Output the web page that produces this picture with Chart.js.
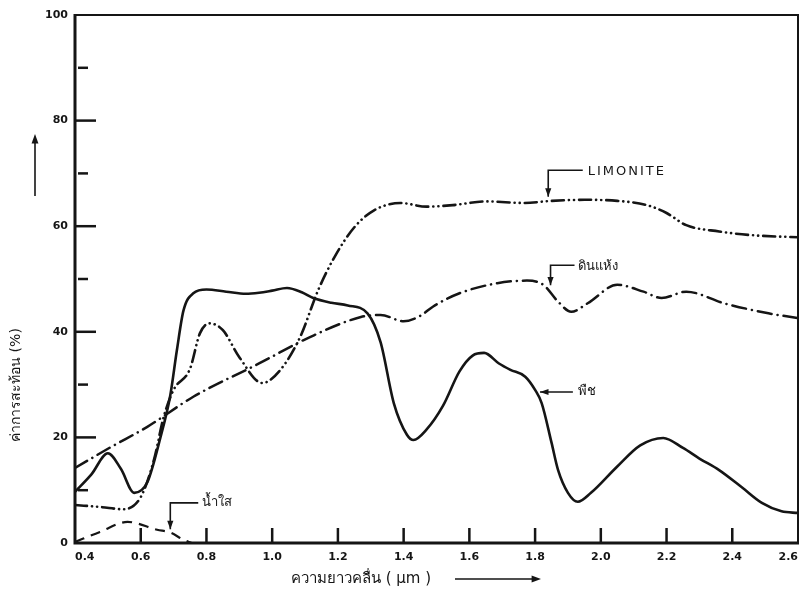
<!DOCTYPE html>
<html>
<head>
<meta charset="utf-8">
<script src="https://cdn.jsdelivr.net/npm/chart.js@4.4.1/dist/chart.umd.min.js"></script>
<style>
  html, body { margin: 0; padding: 0; background: #fff; }
  #wrap { width: 802px; height: 597px; position: relative; }
</style>
</head>
<body>
<div id="wrap"><canvas id="spectra"></canvas></div>
<script>
// reflectance (%) vs wavelength (um)
const vegX = [0.40, 0.45, 0.50, 0.54, 0.58, 0.62, 0.66, 0.69, 0.71, 0.73, 0.76, 0.80, 0.86, 0.92, 0.96, 1.00, 1.045, 1.09, 1.125, 1.18, 1.23, 1.29, 1.33, 1.37, 1.41, 1.43, 1.47, 1.52, 1.57, 1.61, 1.645, 1.69, 1.725, 1.77, 1.80, 1.82, 1.85, 1.87, 1.90, 1.93, 1.97, 2.05, 2.12, 2.19, 2.25, 2.30, 2.36, 2.43, 2.49, 2.55, 2.60];
const vegY = [9.7, 13, 17, 14, 9.5, 11.5, 20, 28, 36.5, 44, 47.3, 48, 47.6, 47.2, 47.4, 47.8, 48.3, 47.5, 46.4, 45.5, 45, 43.5, 38, 26.5, 20.5, 19.5, 21.5, 26, 32.5, 35.5, 36, 34, 32.8, 31.5, 29, 26.5, 19, 13.8, 9.5, 7.8, 9.5, 14.5, 18.5, 19.9, 18, 16, 13.8, 10.5, 7.6, 6, 5.7];

const limX = [0.40, 0.48, 0.546, 0.60, 0.64, 0.67, 0.70, 0.75, 0.78, 0.81, 0.85, 0.90, 0.97, 1.025, 1.085, 1.14, 1.19, 1.25, 1.31, 1.39, 1.47, 1.55, 1.655, 1.765, 1.85, 1.95, 2.05, 2.14, 2.20, 2.26, 2.36, 2.46, 2.60];
const limY = [7.2, 6.8, 6.4, 8.7, 15.7, 23.9, 29, 33, 39.7, 41.6, 40.3, 35.2, 30.3, 32.8, 39, 47.9, 54.2, 59.8, 63, 64.4, 63.7, 64, 64.7, 64.4, 64.8, 65, 64.8, 64, 62.5, 60.2, 59, 58.3, 57.9];

const soilX = [0.40, 0.51, 0.62, 0.76, 0.96, 1.115, 1.27, 1.33, 1.40, 1.45, 1.49, 1.57, 1.685, 1.775, 1.825, 1.87, 1.91, 1.96, 2.05, 2.13, 2.185, 2.26, 2.375, 2.51, 2.60];
const soilY = [14.2, 18.2, 22, 27.7, 34, 39, 42.8, 43.2, 42, 43, 44.8, 47.3, 49.2, 49.7, 48.9, 45.7, 43.8, 45.4, 48.9, 47.6, 46.4, 47.6, 45.4, 43.5, 42.6];

const waterX = [0.40, 0.476, 0.56, 0.65, 0.69, 0.73, 0.755];
const waterY = [0.2, 2.1, 4, 2.5, 2, 0.6, 0];

const xTicks = [0.4, 0.6, 0.8, 1.0, 1.2, 1.4, 1.6, 1.8, 2.0, 2.2, 2.4, 2.6];
const yTicks = [0, 20, 40, 60, 80, 100];
const yMinorTicks = [10, 30, 50, 70, 90];

const seriesNames = ['พืช', 'LIMONITE', 'ดินแห้ง', 'น้ำใส'];
const xTitle = 'ความยาวคลื่น ( μm )';
const yTitle = 'ค่าการสะท้อน (%)';

const toPoints = (xs, ys) => xs.map((v, i) => ({ x: v, y: ys[i] }));

const INK = '#151515';
const FONT = '"DejaVu Sans", "Noto Sans", sans-serif';

// callouts: label text with leader line and arrow, in data units
const callouts = [
  { text: seriesNames[1], tx: 1.96, ty: 70.4, spacing: '2px', path: [[1.945, 70.6], [1.84, 70.6], [1.84, 65.6]] },
  { text: seriesNames[2], tx: 1.93, ty: 52.4, spacing: '0px', path: [[1.92, 52.6], [1.847, 52.6], [1.847, 48.8]] },
  { text: seriesNames[0], tx: 1.93, ty: 28.6, spacing: '0px', path: [[1.915, 28.6], [1.815, 28.6]] },
  { text: seriesNames[3], tx: 0.785, ty: 7.7, spacing: '0px', path: [[0.775, 7.6], [0.69, 7.6], [0.69, 2.6]] }
];

function arrowHead(ctx, x1, y1, x2, y2, size) {
  const ang = Math.atan2(y2 - y1, x2 - x1);
  ctx.beginPath();
  ctx.moveTo(x2, y2);
  ctx.lineTo(x2 - size * Math.cos(ang - 0.35), y2 - size * Math.sin(ang - 0.35));
  ctx.lineTo(x2 - size * Math.cos(ang + 0.35), y2 - size * Math.sin(ang + 0.35));
  ctx.closePath();
  ctx.fill();
}

const decorations = {
  id: 'decorations',
  afterDraw(chart) {
    const { ctx, chartArea: a } = chart;
    const x = chart.scales.x, y = chart.scales.y;
    ctx.save();
    ctx.strokeStyle = INK;
    ctx.fillStyle = INK;
    ctx.lineCap = 'butt';

    // frame
    ctx.lineWidth = 2;
    ctx.beginPath();
    ctx.moveTo(a.left, a.top);
    ctx.lineTo(a.right, a.top);
    ctx.lineTo(a.right, a.bottom);
    ctx.stroke();
    ctx.lineWidth = 3;
    ctx.beginPath();
    ctx.moveTo(a.left, a.top - 1);
    ctx.lineTo(a.left, a.bottom);
    ctx.lineTo(a.right + 1, a.bottom);
    ctx.stroke();

    // inward ticks
    ctx.lineWidth = 2.5;
    xTicks.slice(1, -1).forEach(v => {
      const px = x.getPixelForValue(v);
      ctx.beginPath(); ctx.moveTo(px, a.bottom); ctx.lineTo(px, a.bottom - 15); ctx.stroke();
    });
    yTicks.slice(1, -1).forEach(v => {
      const py = y.getPixelForValue(v);
      ctx.beginPath(); ctx.moveTo(a.left, py); ctx.lineTo(a.left + 21, py); ctx.stroke();
    });
    yMinorTicks.forEach(v => {
      const py = y.getPixelForValue(v);
      ctx.beginPath(); ctx.moveTo(a.left + 3, py); ctx.lineTo(a.left + 13, py); ctx.stroke();
    });

    // callouts
    ctx.lineWidth = 1.6;
    ctx.font = '13px ' + FONT;
    ctx.textBaseline = 'middle';
    ctx.textAlign = 'left';
    callouts.forEach(c => {
      const pts = c.path.map(p => [x.getPixelForValue(p[0]), y.getPixelForValue(p[1])]);
      ctx.beginPath();
      pts.forEach((p, i) => i ? ctx.lineTo(p[0], p[1]) : ctx.moveTo(p[0], p[1]));
      ctx.stroke();
      const n = pts.length;
      arrowHead(ctx, pts[n - 2][0], pts[n - 2][1], pts[n - 1][0], pts[n - 1][1], 9);
      ctx.letterSpacing = c.spacing;
      ctx.fillText(c.text, x.getPixelForValue(c.tx), y.getPixelForValue(c.ty));
    });
    ctx.letterSpacing = '0px';

    // axis titles with arrows
    ctx.font = '15px ' + FONT;
    ctx.textAlign = 'center';
    ctx.fillText(xTitle, 361, 579);
    ctx.beginPath(); ctx.moveTo(455, 579); ctx.lineTo(538, 579); ctx.stroke();
    arrowHead(ctx, 455, 579, 541, 579, 10);

    ctx.font = '14px ' + FONT;
    ctx.save();
    ctx.translate(16, 385);
    ctx.rotate(-Math.PI / 2);
    ctx.fillText(yTitle, 0, 0);
    ctx.restore();
    ctx.beginPath(); ctx.moveTo(35, 196); ctx.lineTo(35, 138); ctx.stroke();
    arrowHead(ctx, 35, 196, 35, 134, 10);

    ctx.restore();
  }
};

const lineBase = {
  borderColor: INK,
  borderWidth: 2.6,
  pointRadius: 0,
  fill: false,
  cubicInterpolationMode: 'monotone',
  borderCapStyle: 'round'
};

new Chart(document.getElementById('spectra').getContext('2d'), {
  type: 'line',
  data: {
    datasets: [
      Object.assign({}, lineBase, { label: seriesNames[0], data: toPoints(vegX, vegY) }),
      Object.assign({}, lineBase, { label: seriesNames[1], data: toPoints(limX, limY), borderWidth: 2.6, borderDash: [12, 5, 0.1, 5, 0.1, 5] }),
      Object.assign({}, lineBase, { label: seriesNames[2], data: toPoints(soilX, soilY), borderWidth: 2.5, borderDash: [14, 6, 0.1, 6] }),
      Object.assign({}, lineBase, { label: seriesNames[3], data: toPoints(waterX, waterY), borderWidth: 2.2, borderDash: [10, 7], borderCapStyle: 'butt' })
    ]
  },
  options: {
    responsive: true,
    maintainAspectRatio: false,
    animation: false,
    layout: { padding: { top: 15, right: 4, left: 0, bottom: 0 } },
    plugins: {
      legend: { display: false },
      tooltip: { enabled: false }
    },
    scales: {
      x: {
        type: 'linear',
        min: 0.4,
        max: 2.6,
        afterBuildTicks: (s) => { s.ticks = xTicks.map(v => ({ value: v })); },
        afterFit: (s) => { s.height = 54; s.paddingLeft = 0; s.paddingRight = 0; },
        grid: { display: false, drawTicks: false },
        border: { display: false },
        ticks: {
          padding: 8,
          align: 'inner',
          color: INK,
          font: { family: FONT, size: 11, weight: 'bold' },
          callback: (v) => v.toFixed(1)
        }
      },
      y: {
        min: 0,
        max: 100,
        afterBuildTicks: (s) => { s.ticks = yTicks.map(v => ({ value: v })); },
        afterFit: (s) => { s.width = 75; },
        grid: { display: false, drawTicks: false },
        border: { display: false },
        ticks: {
          padding: 7,
          color: INK,
          font: { family: FONT, size: 11, weight: 'bold' }
        }
      }
    }
  },
  plugins: [decorations]
});
</script>
</body>
</html>
